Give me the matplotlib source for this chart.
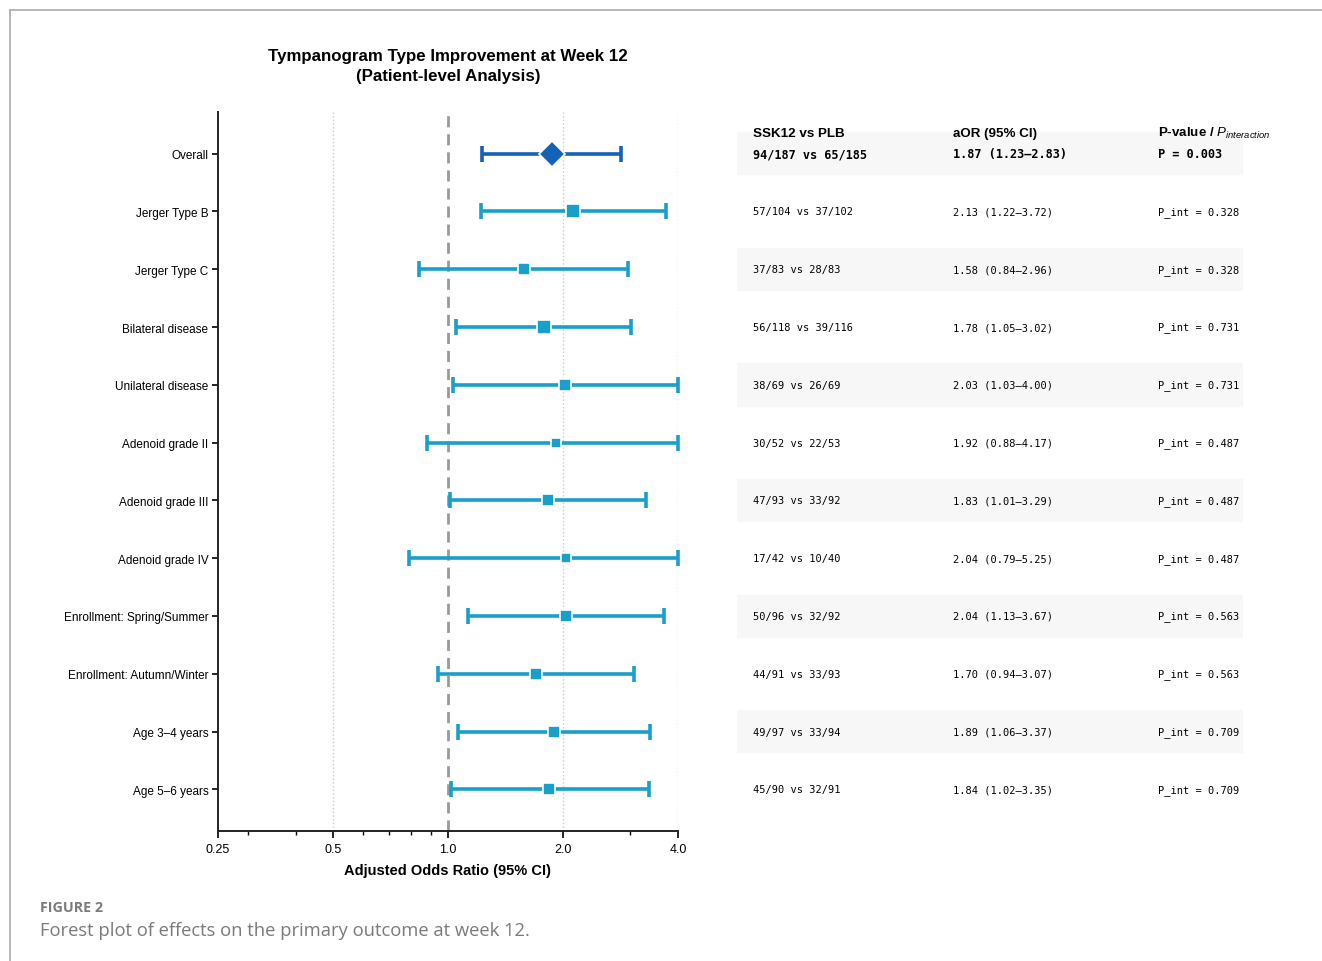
import numpy as np
import matplotlib
matplotlib.use("Agg")
import matplotlib.pyplot as plt
from matplotlib.lines import Line2D
from matplotlib.ticker import LogLocator, FixedLocator, FixedFormatter, NullFormatter

plt.rcParams['font.family'] = ['Liberation Sans', 'DejaVu Sans']
plt.rcParams['mathtext.fontset'] = 'custom'
plt.rcParams['mathtext.it'] = 'Liberation Sans:italic'
plt.rcParams['mathtext.rm'] = 'Liberation Sans'

labels = ["Overall", "Jerger Type B", "Jerger Type C", "Bilateral disease",
          "Unilateral disease", "Adenoid grade II", "Adenoid grade III",
          "Adenoid grade IV", "Enrollment: Spring/Summer", "Enrollment: Autumn/Winter",
          "Age 3\u20134 years", "Age 5\u20136 years"]
aor = [1.87, 2.13, 1.58, 1.78, 2.03, 1.92, 1.83, 2.04, 2.04, 1.70, 1.89, 1.84]
lo = [1.23, 1.22, 0.84, 1.05, 1.03, 0.88, 1.01, 0.79, 1.13, 0.94, 1.06, 1.02]
hi = [2.83, 3.72, 2.96, 3.02, 4.00, 4.17, 3.29, 5.25, 3.67, 3.07, 3.37, 3.35]
counts = ["94/187 vs 65/185", "57/104 vs 37/102", "37/83 vs 28/83", "56/118 vs 39/116",
          "38/69 vs 26/69", "30/52 vs 22/53", "47/93 vs 33/92", "17/42 vs 10/40",
          "50/96 vs 32/92", "44/91 vs 33/93", "49/97 vs 33/94", "45/90 vs 32/91"]
pvals = ["P = 0.003", "P_int = 0.328", "P_int = 0.328", "P_int = 0.731", "P_int = 0.731",
         "P_int = 0.487", "P_int = 0.487", "P_int = 0.487", "P_int = 0.563",
         "P_int = 0.563", "P_int = 0.709", "P_int = 0.709"]
# marker sizes roughly follow subgroup size
msize = [13, 9.5, 8.5, 9.5, 8, 7, 8.5, 6.5, 8.5, 8.5, 8.5, 8.5]

c_overall = "#1560b8"
c_sub = "#199fcb"

fig = plt.figure(figsize=(13.22, 9.62), dpi=100)

# journal frame lines
fig.add_artist(Line2D([10/1322, 1], [1 - 11/962] * 2, color="#aaaaaa", lw=1.2))
fig.add_artist(Line2D([10/1322] * 2, [0, 1 - 11/962], color="#aaaaaa", lw=1.2))

ax = fig.add_axes([218/1322, 1 - 832/962, 460/1322, 719/962])
ax.set_xscale("log", base=2)
ax.set_xlim(0.25, 4.0)
ax.set_ylim(11.72, -0.72)

for g in [0.5, 2.0, 4.0]:
    ax.axvline(g, color="#cccccc", ls=":", lw=1, zorder=0)
ax.axvline(1.0, color="#999999", ls=(0, (4, 2.5)), lw=2, zorder=1)

ys = np.arange(len(labels))
for i in ys:
    x = aor[i]
    l = lo[i]
    h = min(hi[i], 4.0)
    col = c_overall if i == 0 else c_sub
    mk = "D" if i == 0 else "s"
    ax.errorbar(x, i, xerr=[[x - l], [h - x]], fmt="none", ecolor=col,
                elinewidth=2.6, capsize=6, capthick=2.6, zorder=2, clip_on=False)
    ax.plot(x, i, marker=mk, ms=msize[i], color=col, mec="white", mew=1.2,
            zorder=3, clip_on=False)

ax.set_yticks(ys)
ax.set_yticklabels(labels, fontsize=8.5)
ax.xaxis.set_major_locator(FixedLocator([0.25, 0.5, 1.0, 2.0, 4.0]))
ax.xaxis.set_major_formatter(FixedFormatter(["0.25", "0.5", "1.0", "2.0", "4.0"]))
ax.xaxis.set_minor_locator(LogLocator(base=10, subs=np.arange(2, 10)))
ax.xaxis.set_minor_formatter(NullFormatter())
ax.tick_params(axis="x", labelsize=9, length=5, width=1.2)
ax.tick_params(axis="x", which="minor", length=3, width=1)
ax.tick_params(axis="y", length=4, width=1.2, pad=3)
for s in ["top", "right"]:
    ax.spines[s].set_visible(False)
for s in ["left", "bottom"]:
    ax.spines[s].set_linewidth(1.4)
    ax.spines[s].set_color("#222222")
ax.set_xlabel("Adjusted Odds Ratio (95% CI)", fontsize=10.5, fontweight="bold", labelpad=6)
ax.set_title("Tympanogram Type Improvement at Week 12\n(Patient-level Analysis)",
             fontsize=12.2, fontweight="bold", pad=23, linespacing=1.45)

# table panel
tx = fig.add_axes([737/1322, 1 - 832/962, 506/1322, 719/962], sharey=ax)
tx.set_xlim(0, 1)
tx.axis("off")
for i in ys:
    if i % 2 == 0:
        tx.axhspan(i - 0.37, i + 0.36, color="#f7f7f7", zorder=0)
mono = "DejaVu Sans Mono"
cols = [0.031, 0.427, 0.832]
tx.text(cols[0], -0.36, "SSK12 vs PLB", fontsize=9.6, fontweight="bold", va="center")
tx.text(cols[1], -0.36, "aOR (95% CI)", fontsize=9.6, fontweight="bold", va="center")
tx.text(cols[2], -0.36, "P-value / $P_{interaction}$", fontsize=9.6, fontweight="bold",
        va="center")
for i in ys:
    ors = f"{aor[i]:.2f} ({lo[i]:.2f}\u2013{hi[i]:.2f})"
    if i == 0:
        kw = dict(family=mono, fontsize=8.6, fontweight="bold", va="center")
    else:
        kw = dict(family=mono, fontsize=7.5, va="center")
    tx.text(cols[0], i, counts[i], **kw)
    tx.text(cols[1], i, ors, **kw)
    tx.text(cols[2], i, pvals[i], **kw)

# caption
fig.text(40/1322, 1 - 908/962, "FIGURE 2", fontsize=10.3, fontweight="bold",
         color="#7a7a7a", family=["Open Sans", "DejaVu Sans"], va="center")
fig.text(40/1322, 1 - 931/962, "Forest plot of effects on the primary outcome at week 12.",
         fontsize=13.2, color="#7a7a7a", family=["Open Sans", "DejaVu Sans"], va="center")

fig.savefig("out.png", dpi=100, facecolor="white")
